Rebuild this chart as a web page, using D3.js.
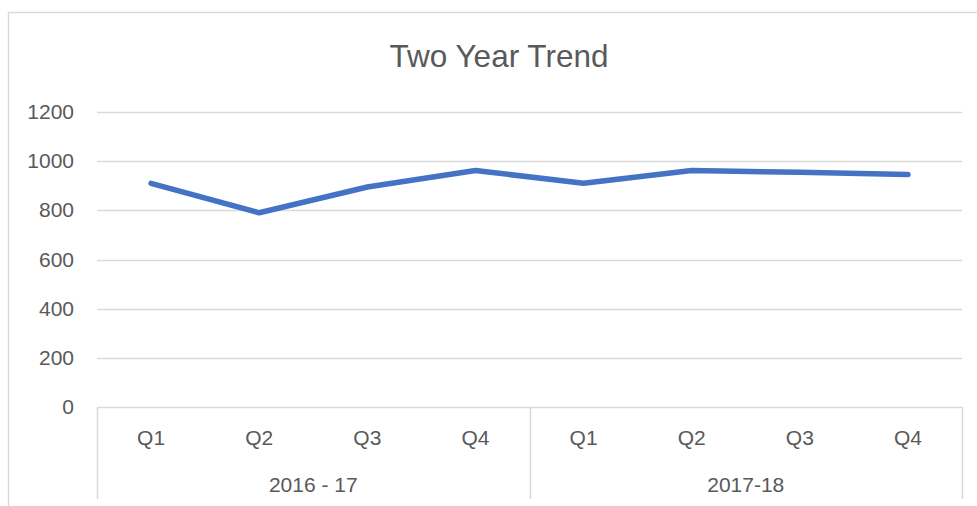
<!DOCTYPE html>
<html>
<head>
<meta charset="utf-8">
<script src="https://cdn.jsdelivr.net/npm/d3@7"></script>
<style>
  html, body { margin: 0; padding: 0; background: #fff; }
  svg { display: block; }
  text { font-family: "Liberation Sans", Arial, sans-serif; fill: #595959; }
</style>
</head>
<body>
<div id="chart"></div>
<script>
var quarters = ["Q1", "Q2", "Q3", "Q4", "Q1", "Q2", "Q3", "Q4"];
var years = ["2016 - 17", "2017-18"];
var values = [910, 790, 895, 962, 910, 962, 955, 946];
var yTicks = [0, 200, 400, 600, 800, 1000, 1200];

var width = 977, height = 506;
var margin = { top: 112, right: 15, bottom: 99, left: 97 };

var svg = d3.select("#chart").append("svg")
  .attr("width", width)
  .attr("height", height);

// chart border
svg.append("rect")
  .attr("x", 8.5).attr("y", 12.5)
  .attr("width", width + 10).attr("height", height + 10)
  .attr("fill", "none")
  .attr("stroke", "#d9d9d9")
  .attr("stroke-width", 1.5);

svg.append("text")
  .attr("x", 499).attr("y", 67)
  .attr("text-anchor", "middle")
  .style("font-size", "31.5px")
  .text("Two Year Trend");

var x = d3.scaleBand()
  .domain(d3.range(quarters.length))
  .range([margin.left, width - margin.right]);

var xYear = d3.scaleBand()
  .domain(d3.range(years.length))
  .range([margin.left, width - margin.right]);

var y = d3.scaleLinear()
  .domain([0, 1200])
  .range([height - margin.bottom, margin.top]);

// gridlines + y labels
svg.append("g")
  .selectAll("line")
  .data(yTicks)
  .join("line")
  .attr("x1", margin.left).attr("x2", width - margin.right)
  .attr("y1", d => Math.round(y(d)) + 0.5)
  .attr("y2", d => Math.round(y(d)) + 0.5)
  .attr("stroke", "#d9d9d9")
  .attr("stroke-width", 1.5);

svg.append("g")
  .selectAll("text")
  .data(yTicks)
  .join("text")
  .attr("x", 74)
  .attr("y", d => y(d) + 7)
  .attr("text-anchor", "end")
  .style("font-size", "21px")
  .text(d => d);

// multi-level category axis
var bottom = y(0);
var seps = [margin.left].concat(d3.range(years.length).map(i => xYear(i) + xYear.bandwidth()));
svg.append("g")
  .selectAll("line")
  .data(seps)
  .join("line")
  .attr("x1", d => Math.round(d) + 0.5).attr("x2", d => Math.round(d) + 0.5)
  .attr("y1", bottom).attr("y2", 499)
  .attr("stroke", "#d9d9d9")
  .attr("stroke-width", 1.5);

svg.append("g")
  .selectAll("text")
  .data(quarters)
  .join("text")
  .attr("x", (d, i) => x(i) + x.bandwidth() / 2)
  .attr("y", 445)
  .attr("text-anchor", "middle")
  .style("font-size", "21px")
  .text(d => d);

svg.append("g")
  .selectAll("text")
  .data(years)
  .join("text")
  .attr("x", (d, i) => xYear(i) + xYear.bandwidth() / 2)
  .attr("y", 492)
  .attr("text-anchor", "middle")
  .style("font-size", "21px")
  .text(d => d);

// the line
var line = d3.line()
  .x((d, i) => x(i) + x.bandwidth() / 2)
  .y(d => y(d));

svg.append("path")
  .datum(values)
  .attr("d", line)
  .attr("fill", "none")
  .attr("stroke", "#4472c4")
  .attr("stroke-width", 5.5)
  .attr("stroke-linecap", "round")
  .attr("stroke-linejoin", "round");
</script>
</body>
</html>
